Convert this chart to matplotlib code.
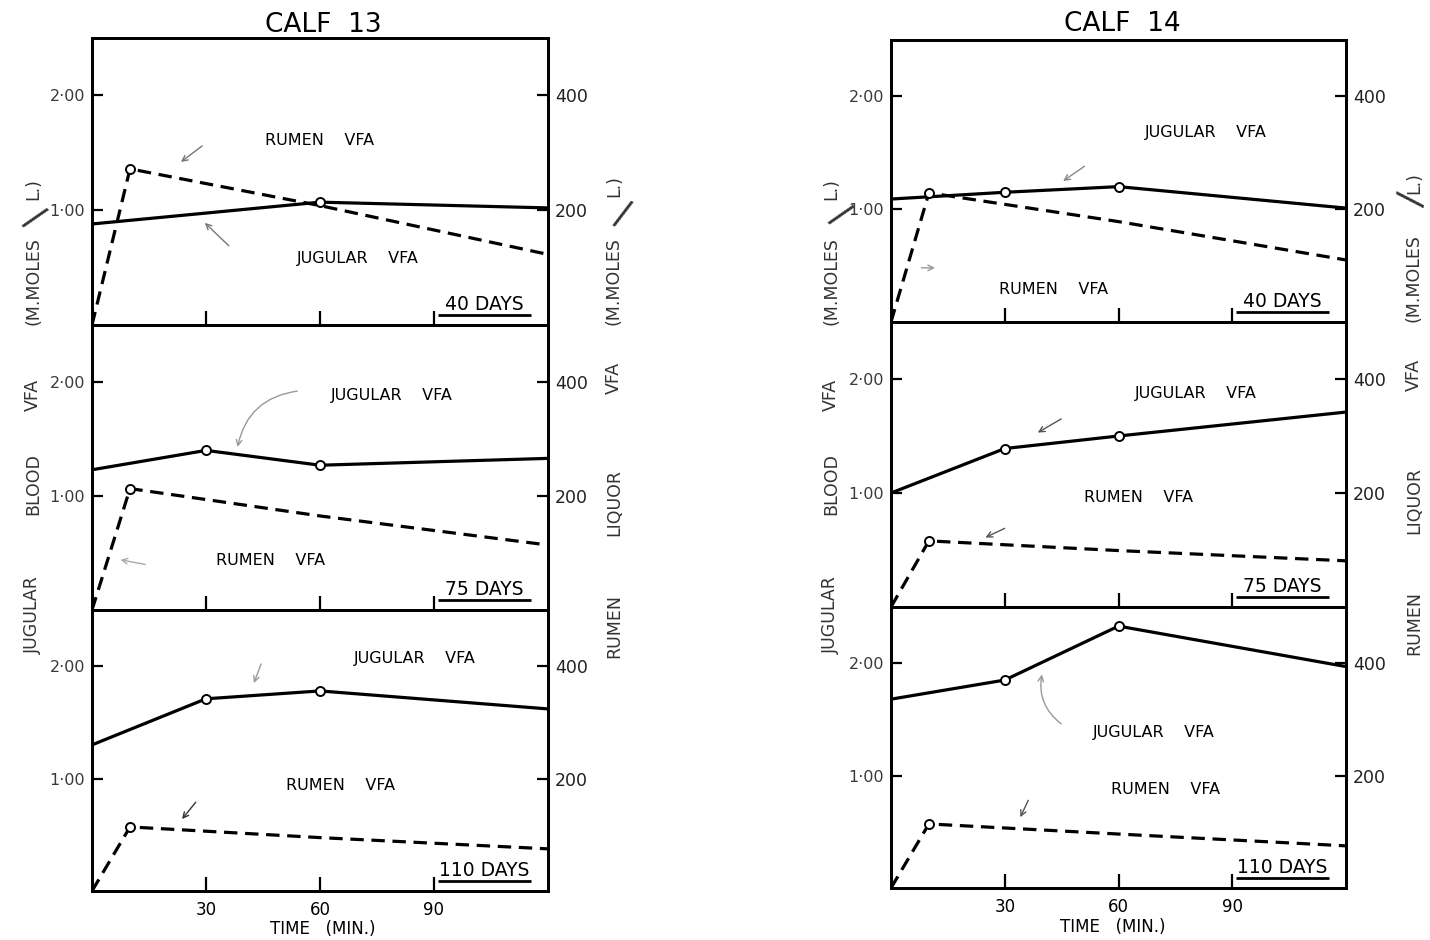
import matplotlib
matplotlib.use("Agg")
import matplotlib.pyplot as plt

plt.rcParams['font.family'] = ['DejaVu Sans']

# ---------------- data ----------------
calf_titles = ["CALF  13", "CALF  14"]
age_labels = ["40 DAYS", "75 DAYS", "110 DAYS"]
time_ticks = [30, 60, 90]
time_tick_labels = ["30", "60", "90"]
blood_ticks = [1.0, 2.0]
blood_tick_labels = ["1·00", "2·00"]
rumen_ticks = [200, 400]
rumen_tick_labels = ["200", "400"]
x_label = "TIME   (MIN.)"
jug_text = "JUGULAR    VFA"
rum_text = "RUMEN    VFA"

# jugular blood VFA (m.moles / L.)  -- left axis
c13_jug_time = [[0, 60, 120], [0, 30, 60, 120], [0, 30, 60, 120]]
c13_jug_vfa = [[0.88, 1.07, 1.02], [1.23, 1.40, 1.27, 1.33], [1.30, 1.71, 1.78, 1.62]]
c14_jug_time = [[0, 30, 60, 120], [0, 30, 60, 120], [0, 30, 60, 120]]
c14_jug_vfa = [[1.09, 1.15, 1.20, 1.01], [1.00, 1.39, 1.50, 1.71], [1.68, 1.85, 2.33, 1.97]]

# rumen liquor VFA (m.moles / L.)  -- right axis
rum_time = [0, 10, 60, 120]
c13_rum_vfa = [[0, 272, 208, 123], [0, 213, 165, 114], [0, 114, 95, 75]]
c14_rum_vfa = [[0, 229, 178, 110], [0, 116, 99, 81], [0, 114, 96, 75]]

# samples drawn with open circles
jug_circle_times = [30, 60]
rum_circle_times = [10]

# ---------------- layout ----------------
W, H = 1430, 940
fig = plt.figure(figsize=(W / 100, H / 100), dpi=100)
fig.patch.set_facecolor('white')

columns = [
    dict(x0=92, x1=548, rows=[38, 325, 610, 891],
         jug_t=c13_jug_time, jug_v=c13_jug_vfa, rum_v=c13_rum_vfa),
    dict(x0=891, x1=1346, rows=[40, 322, 607, 888],
         jug_t=c14_jug_time, jug_v=c14_jug_vfa, rum_v=c14_rum_vfa),
]

# label placement per column / panel: (text centre), arrow start, arrow end, curvature, colour
annots = [
    [  # calf 13
        dict(jug=(70, 0.58), jarr=((36, 0.69), (29.7, 0.89), 0.0, '#777'),
             rum=(60, 1.61), rarr=((29, 1.56), (23.4, 1.42), 0.0, '#777')),
        dict(jug=(79, 1.88), jarr=((54, 1.92), (38.3, 1.43), 0.35, '#999'),
             rum=(47, 0.43), rarr=((14, 0.40), (7.5, 0.44), 0.0, '#aaa')),
        dict(jug=(85, 2.07), jarr=((44.5, 2.02), (42.6, 1.85), 0.0, '#999'),
             rum=(65.5, 0.935), rarr=((27.3, 0.79), (23.7, 0.64), 0.0, '#333')),
    ],
    [  # calf 14
        dict(jug=(83, 1.68), jarr=((51, 1.38), (45.4, 1.25), 0.0, '#888'),
             rum=(43, 0.285), rarr=((8, 0.48), (11.6, 0.48), 0.0, '#999')),
        dict(jug=(80.4, 1.87), jarr=((44.9, 1.65), (38.7, 1.53), 0.0, '#555'),
             rum=(65.4, 0.96), rarr=((30, 0.69), (24.9, 0.61), 0.0, '#555')),
        dict(jug=(69.3, 1.386), jarr=((44.9, 1.46), (39.8, 1.90), -0.3, '#999'),
             rum=(72.3, 0.88), rarr=((36.2, 0.78), (34.1, 0.63), 0.0, '#555')),
    ],
]

LW = 2.3
DASH = (0, (4.2, 2.4))

for ci, col in enumerate(columns):
    x0, x1, rows = col['x0'], col['x1'], col['rows']
    for r in range(3):
        y_top, y_bot = rows[r], rows[r + 1]
        ax = fig.add_axes([x0 / W, 1 - y_bot / H, (x1 - x0) / W, (y_bot - y_top) / H])
        axr = ax.twinx()
        ax.set_xlim(0, 120)
        ax.set_ylim(0, 2.5)
        axr.set_ylim(0, 500)

        jt, jv = col['jug_t'][r], col['jug_v'][r]
        rv = col['rum_v'][r]

        ax.plot(jt, jv, color='black', lw=LW, solid_joinstyle='miter', zorder=3)
        jidx = [i for i, t in enumerate(jt) if t in jug_circle_times]
        ax.plot(jt, jv, ls='none', marker='o', ms=6.5, mfc='white', mec='black',
                mew=1.4, markevery=jidx, zorder=5)

        axr.plot(rum_time, rv, color='black', lw=LW, ls=DASH, zorder=3)
        ridx = [i for i, t in enumerate(rum_time) if t in rum_circle_times]
        axr.plot(rum_time, rv, ls='none', marker='o', ms=6.5, mfc='white', mec='black',
                 mew=1.4, markevery=ridx, zorder=5)

        # ticks
        ax.set_xticks(time_ticks)
        ax.set_xticklabels(time_tick_labels if r == 2 else [])
        ax.tick_params(axis='x', direction='in', length=10, width=1.6,
                       labelsize=12, pad=7, top=False)
        ax.set_yticks(blood_ticks)
        ax.set_yticklabels(blood_tick_labels)
        ax.tick_params(axis='y', direction='in', length=8, width=1.6,
                       labelsize=11.5, pad=5, labelcolor='#3a3a3a')
        axr.set_yticks(rumen_ticks)
        axr.set_yticklabels(rumen_tick_labels)
        axr.tick_params(axis='y', direction='in', length=8, width=1.6,
                        labelsize=12.5, pad=5, labelcolor='#222222')
        for sp in list(ax.spines.values()) + list(axr.spines.values()):
            sp.set_linewidth(2.0)

        # age label with underline
        ax.text(0.86, 0.072, age_labels[r], transform=ax.transAxes, ha='center',
                va='center', fontsize=13.5)
        ax.plot([0.758, 0.962], [0.036, 0.036], transform=ax.transAxes,
                color='black', lw=2.0, solid_capstyle='butt')

        # series labels and arrows
        a = annots[ci][r]
        ax.text(*a['jug'], jug_text, ha='center', va='center', fontsize=11.5)
        ax.text(*a['rum'], rum_text, ha='center', va='center', fontsize=11.5)
        for key in ('jarr', 'rarr'):
            s, e, rad, c = a[key]
            ax.annotate('', xy=e, xytext=s,
                        arrowprops=dict(arrowstyle='->', color=c, lw=1.0,
                                        shrinkA=0, shrinkB=0, mutation_scale=10,
                                        connectionstyle=f'arc3,rad={rad}'))

# ---------------- titles and axis labels ----------------
def ftext(x, y, s, **kw):
    fig.text(x / W, 1 - y / H, s, ha='center', va='center', **kw)

ftext(323, 25, calf_titles[0], fontsize=19)
ftext(1122, 24, calf_titles[1], fontsize=19)

ftext(323, 929, x_label, fontsize=12)
ftext(1113, 927, x_label, fontsize=12)

left_label_words = [("JUGULAR", 615), ("BLOOD", 484), ("VFA", 395),
                    ("(M.MOLES", 281), ("L.)", 189)]
right_label_words = [("RUMEN", 626), ("LIQUOR", 503), ("VFA", 378),
                     ("(M.MOLES", 281), ("L.)", 186)]

for (word, y) in left_label_words:
    ftext(33, y, word, rotation=90, fontsize=12.5, color='#333333')
    ftext(831, y, word, rotation=90, fontsize=12.5, color='#333333')
for (word, y) in right_label_words:
    ftext(614, y, word, rotation=90, fontsize=12.5, color='#333333')
    ftext(1414, y - 3, word, rotation=90, fontsize=12.5, color='#333333')

# large slashes between "M.MOLES" and "L."
ftext(34, 218, "/", rotation=-38, fontsize=26, color='#333333')
ftext(840, 215, "/", rotation=-38, fontsize=26, color='#333333')
ftext(622, 214, "/", rotation=-20, fontsize=26, color='#333333')
ftext(1408, 198, "/", rotation=-100, fontsize=26, color='#333333')

fig.savefig("out.png", dpi=100, facecolor='white')
